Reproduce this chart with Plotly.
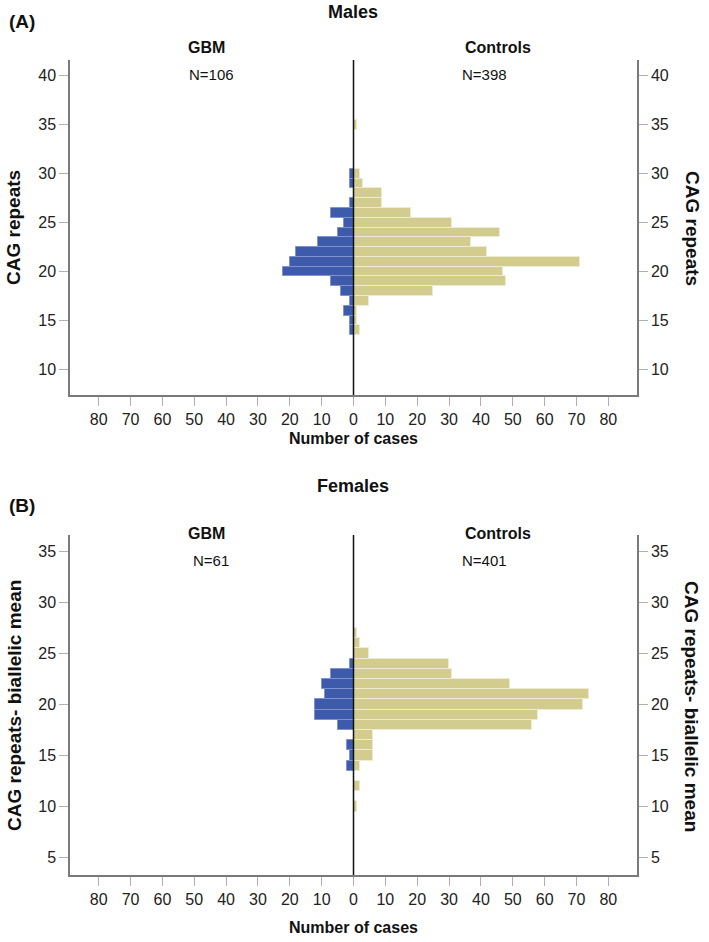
import plotly.graph_objects as go

W, H = 709, 942

# ---------------- data ----------------
cag_m = [35, 30, 29, 28, 27, 26, 25, 24, 23, 22, 21, 20, 19, 18, 17, 16, 15, 14]
gbm_m = [0, 1, 1, 0, 1, 7, 3, 5, 11, 18, 20, 22, 7, 4, 1, 3, 1, 1]
ctrl_m = [1, 2, 3, 9, 9, 18, 31, 46, 37, 42, 71, 47, 48, 25, 5, 1, 1, 2]

cag_f = [27, 26, 25, 24, 23, 22, 21, 20, 19, 18, 17, 16, 15, 14, 12, 10]
gbm_f = [0, 0, 0, 1, 7, 10, 9, 12, 12, 5, 0, 2, 1, 2, 0, 0]
ctrl_f = [1, 2, 5, 30, 31, 49, 74, 72, 58, 56, 6, 6, 6, 2, 2, 1]

x_ticks = [-80, -70, -60, -50, -40, -30, -20, -10, 0, 10, 20, 30, 40, 50, 60, 70, 80]
x_ticklabels = [str(abs(v)) for v in x_ticks]
y_ticks_m = [10, 15, 20, 25, 30, 35, 40]
y_ticks_f = [5, 10, 15, 20, 25, 30, 35]

# ---------------- styling ----------------
BLUE = "#3E5AAA"
BLUE_EDGE = "#8193CF"
TAN = "#D2CC8E"
TAN_EDGE = "#EEEBD2"
AXIS_GRAY = "#7a7a7a"
TICK_GRAY = "#b0b0b0"
FONT = "Liberation Sans, Arial, sans-serif"


def px_x(p):
    return p / W


def px_y(p):
    return 1 - p / H


def nz(ys, xs, sign):
    pts = [(y, sign * x) for y, x in zip(ys, xs) if x != 0]
    return [p[0] for p in pts], [p[1] for p in pts]


fig = go.Figure()

panels = [
    dict(ys=cag_m, g=gbm_m, c=ctrl_m, x="x", y="y", y2="y3"),
    dict(ys=cag_f, g=gbm_f, c=ctrl_f, x="x2", y="y2", y2="y4"),
]
for p in panels:
    yy, xx = nz(p["ys"], p["g"], -1)
    fig.add_trace(go.Bar(y=yy, x=xx, orientation="h", width=1,
                         marker=dict(color=BLUE, line=dict(color=BLUE_EDGE, width=1)),
                         xaxis=p["x"], yaxis=p["y"], showlegend=False))
    yy, xx = nz(p["ys"], p["c"], 1)
    fig.add_trace(go.Bar(y=yy, x=xx, orientation="h", width=1,
                         marker=dict(color=TAN, line=dict(color=TAN_EDGE, width=1)),
                         xaxis=p["x"], yaxis=p["y"], showlegend=False))
    fig.add_trace(go.Scatter(x=[None], y=[None], xaxis=p["x"], yaxis=p["y2"],
                             showlegend=False, hoverinfo="skip"))

xdom = [px_x(70), px_x(637)]
ydomA = [px_y(395), px_y(60)]
ydomB = [px_y(875), px_y(535)]

common_x = dict(range=[-89, 89], tickmode="array", tickvals=x_ticks, ticktext=x_ticklabels,
                showline=True, linecolor=AXIS_GRAY, linewidth=1.5, ticks="outside",
                ticklen=9, tickcolor=TICK_GRAY, tickwidth=1, showgrid=False, zeroline=False,
                tickfont=dict(family=FONT, size=16, color="#222"), domain=xdom, fixedrange=True)
common_y = dict(tickmode="array", showline=True, linecolor=AXIS_GRAY, linewidth=1.5,
                ticks="outside", ticklen=9, tickcolor=TICK_GRAY, tickwidth=1,
                showgrid=False, zeroline=False,
                tickfont=dict(family=FONT, size=16, color="#222"), fixedrange=True)

fig.update_layout(
    width=W, height=H, margin=dict(l=0, r=0, t=0, b=0),
    plot_bgcolor="white", paper_bgcolor="white", barmode="overlay", bargap=0,
    xaxis=dict(common_x, anchor="y"),
    xaxis2=dict(common_x, anchor="y2"),
    yaxis=dict(common_y, range=[7.4, 41.6], tickvals=y_ticks_m, domain=ydomA, anchor="x"),
    yaxis3=dict(common_y, range=[7.4, 41.6], tickvals=y_ticks_m, overlaying="y",
                side="right", anchor="x"),
    yaxis2=dict(common_y, range=[3.3, 36.6], tickvals=y_ticks_f, domain=ydomB, anchor="x2"),
    yaxis4=dict(common_y, range=[3.3, 36.6], tickvals=y_ticks_f, overlaying="y2",
                side="right", anchor="x2"),
)

# center lines
for xr, yr in [("x", "y"), ("x2", "y2")]:
    fig.add_shape(type="line", xref=xr, yref=yr + " domain", x0=0, x1=0, y0=0, y1=1,
                  line=dict(color="#111", width=1.5), layer="above")


def ann(text, x, y, size=15, bold=False, angle=0, xanchor="center", color="#111"):
    t = f"<b>{text}</b>" if bold else text
    fig.add_annotation(text=t, x=px_x(x), y=px_y(y), xref="paper", yref="paper",
                       showarrow=False, textangle=angle, xanchor=xanchor, yanchor="middle",
                       font=dict(family=FONT, size=size, color=color))


# Panel A texts
ann("(A)", 7, 22, size=19, bold=True, xanchor="left")
ann("Males", 353, 12, size=18, bold=True)
ann("GBM", 206, 48, size=16, bold=True)
ann("Controls", 498, 48, size=16, bold=True)
ann("N=106", 211, 75, size=15)
ann("N=398", 484, 75, size=15)
ann("CAG repeats", 14, 228, size=19, bold=True, angle=-90)
ann("CAG repeats", 692, 228, size=19, bold=True, angle=90)
ann("Number of cases", 353, 438, size=16, bold=True)

# Panel B texts
ann("(B)", 7, 505, size=19, bold=True, xanchor="left")
ann("Females", 353, 486, size=18, bold=True)
ann("GBM", 206, 533, size=16, bold=True)
ann("Controls", 498, 533, size=16, bold=True)
ann("N=61", 211, 560, size=15)
ann("N=401", 484, 560, size=15)
ann("CAG repeats- biallelic mean", 14, 706, size=19, bold=True, angle=-90)
ann("CAG repeats- biallelic mean", 692, 706, size=19, bold=True, angle=90)
ann("Number of cases", 353, 927, size=16, bold=True)

fig.write_html("out.html", config={"displayModeBar": False},
               post_script="document.body.style.margin='0px';document.body.style.padding='0px';")
